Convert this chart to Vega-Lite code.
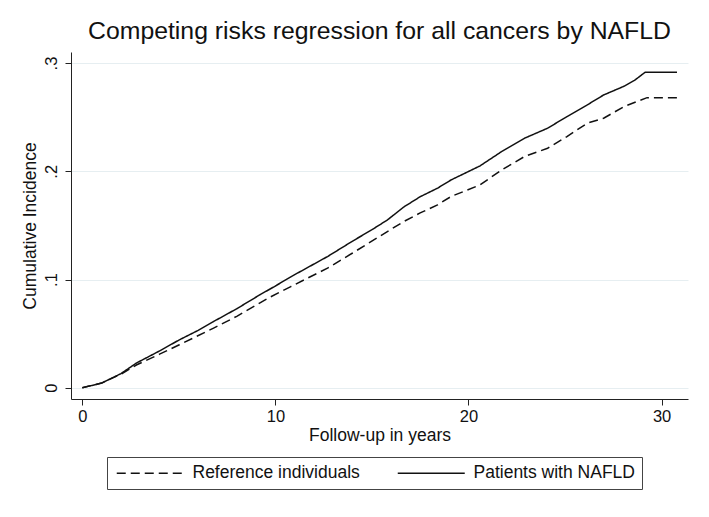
{
  "$schema": "https://vega.github.io/schema/vega-lite/v6.json",
  "autosize": {"type": "none"},
  "width": 617,
  "height": 347,
  "padding": {"left": 71, "top": 52, "right": 21, "bottom": 118},
  "background": "white",
  "title": {"text": "Competing risks regression for all cancers by NAFLD", "fontSize": 24.8, "font": "Liberation Sans", "fontWeight": "normal", "color": "#111", "anchor": "middle", "offset": 8},
  "config": {
    "view": {"stroke": null},
    "font": "Liberation Sans",
    "axis": {"labelFont": "Liberation Sans", "titleFont": "Liberation Sans", "labelColor": "#111", "titleColor": "#111", "domainColor": "#222", "tickColor": "#222", "titleFontWeight": "normal"},
    "legend": {"labelFont": "Liberation Sans"}
  },
  "data": {"values": [
    {"t": 0, "ci": 0, "g": "Patients with NAFLD"},
    {"t": 1.0, "ci": 0.0043, "g": "Patients with NAFLD"},
    {"t": 2.0, "ci": 0.013, "g": "Patients with NAFLD"},
    {"t": 2.8, "ci": 0.0228, "g": "Patients with NAFLD"},
    {"t": 4.0, "ci": 0.034, "g": "Patients with NAFLD"},
    {"t": 5.0, "ci": 0.044, "g": "Patients with NAFLD"},
    {"t": 6.0, "ci": 0.053, "g": "Patients with NAFLD"},
    {"t": 6.8, "ci": 0.0612, "g": "Patients with NAFLD"},
    {"t": 8.0, "ci": 0.073, "g": "Patients with NAFLD"},
    {"t": 9.2, "ci": 0.0859, "g": "Patients with NAFLD"},
    {"t": 10.0, "ci": 0.094, "g": "Patients with NAFLD"},
    {"t": 10.8, "ci": 0.1025, "g": "Patients with NAFLD"},
    {"t": 12.7, "ci": 0.1212, "g": "Patients with NAFLD"},
    {"t": 14.0, "ci": 0.1355, "g": "Patients with NAFLD"},
    {"t": 15.0, "ci": 0.146, "g": "Patients with NAFLD"},
    {"t": 15.8, "ci": 0.155, "g": "Patients with NAFLD"},
    {"t": 16.65, "ci": 0.167, "g": "Patients with NAFLD"},
    {"t": 17.5, "ci": 0.1765, "g": "Patients with NAFLD"},
    {"t": 18.4, "ci": 0.1844, "g": "Patients with NAFLD"},
    {"t": 19.1, "ci": 0.192, "g": "Patients with NAFLD"},
    {"t": 20.6, "ci": 0.205, "g": "Patients with NAFLD"},
    {"t": 21.7, "ci": 0.218, "g": "Patients with NAFLD"},
    {"t": 22.9, "ci": 0.2305, "g": "Patients with NAFLD"},
    {"t": 24.1, "ci": 0.2398, "g": "Patients with NAFLD"},
    {"t": 25.1, "ci": 0.2505, "g": "Patients with NAFLD"},
    {"t": 26.15, "ci": 0.2613, "g": "Patients with NAFLD"},
    {"t": 27.0, "ci": 0.2705, "g": "Patients with NAFLD"},
    {"t": 28.05, "ci": 0.2785, "g": "Patients with NAFLD"},
    {"t": 28.6, "ci": 0.284, "g": "Patients with NAFLD"},
    {"t": 29.15, "ci": 0.2915, "g": "Patients with NAFLD"},
    {"t": 30.8, "ci": 0.2915, "g": "Patients with NAFLD"},
    {"t": 0, "ci": 0, "g": "Reference individuals"},
    {"t": 1.0, "ci": 0.0043, "g": "Reference individuals"},
    {"t": 2.0, "ci": 0.0125, "g": "Reference individuals"},
    {"t": 2.8, "ci": 0.021, "g": "Reference individuals"},
    {"t": 4.0, "ci": 0.031, "g": "Reference individuals"},
    {"t": 5.0, "ci": 0.0395, "g": "Reference individuals"},
    {"t": 6.8, "ci": 0.0551, "g": "Reference individuals"},
    {"t": 8.0, "ci": 0.066, "g": "Reference individuals"},
    {"t": 9.7, "ci": 0.0835, "g": "Reference individuals"},
    {"t": 10.8, "ci": 0.0935, "g": "Reference individuals"},
    {"t": 12.7, "ci": 0.1105, "g": "Reference individuals"},
    {"t": 14.0, "ci": 0.1245, "g": "Reference individuals"},
    {"t": 15.8, "ci": 0.1443, "g": "Reference individuals"},
    {"t": 16.65, "ci": 0.1536, "g": "Reference individuals"},
    {"t": 17.5, "ci": 0.1615, "g": "Reference individuals"},
    {"t": 18.4, "ci": 0.169, "g": "Reference individuals"},
    {"t": 19.1, "ci": 0.1767, "g": "Reference individuals"},
    {"t": 20.6, "ci": 0.1874, "g": "Reference individuals"},
    {"t": 21.7, "ci": 0.201, "g": "Reference individuals"},
    {"t": 22.9, "ci": 0.2136, "g": "Reference individuals"},
    {"t": 24.1, "ci": 0.2213, "g": "Reference individuals"},
    {"t": 25.1, "ci": 0.232, "g": "Reference individuals"},
    {"t": 26.15, "ci": 0.2444, "g": "Reference individuals"},
    {"t": 27.0, "ci": 0.249, "g": "Reference individuals"},
    {"t": 28.05, "ci": 0.2597, "g": "Reference individuals"},
    {"t": 29.25, "ci": 0.268, "g": "Reference individuals"},
    {"t": 30.8, "ci": 0.268, "g": "Reference individuals"}
  ]},
  "mark": {"type": "line", "color": "#111", "strokeWidth": 1.5, "clip": true},
  "encoding": {
    "x": {"field": "t", "type": "quantitative",
      "scale": {"domain": [-0.585, 31.37], "nice": false, "zero": false},
      "axis": {"values": [0, 10, 20, 30], "title": "Follow-up in years", "grid": false, "labelFontSize": 16.5, "titleFontSize": 17.5, "tickSize": 6, "labelPadding": 3, "titlePadding": 2, "labelFlush": false}},
    "y": {"field": "ci", "type": "quantitative",
      "scale": {"domain": [-0.0104, 0.3102], "nice": false, "zero": false},
      "axis": {"values": [0, 0.1, 0.2, 0.3], "title": "Cumulative Incidence", "grid": true, "gridColor": "#e6eef1", "gridWidth": 1, "labelAngle": -90, "labelFontSize": 16.5, "titleFontSize": 17.5, "tickSize": 6, "labelPadding": 6, "titlePadding": 4, "labelFlush": false,
        "labelExpr": "datum.value == 0 ? '0' : replace(format(datum.value, '.1f'), '0.', '.')"}},
    "strokeDash": {"field": "g", "type": "nominal",
      "scale": {"domain": ["Reference individuals", "Patients with NAFLD"], "range": [[9, 5], [1, 0]]},
      "legend": {"title": null, "orient": "none", "legendX": 36, "legendY": 405, "direction": "horizontal",
        "symbolType": "M-1,0H66", "symbolSize": 4, "symbolOffset": -5, "symbolStrokeWidth": 1.5, "symbolStrokeColor": "#111",
        "labelFontSize": 17.5, "labelColor": "#111", "labelOffset": 66, "columnPadding": 34,
        "padding": 7, "strokeColor": "#444", "fillColor": "white", "labelLimit": 300}}
  }
}
